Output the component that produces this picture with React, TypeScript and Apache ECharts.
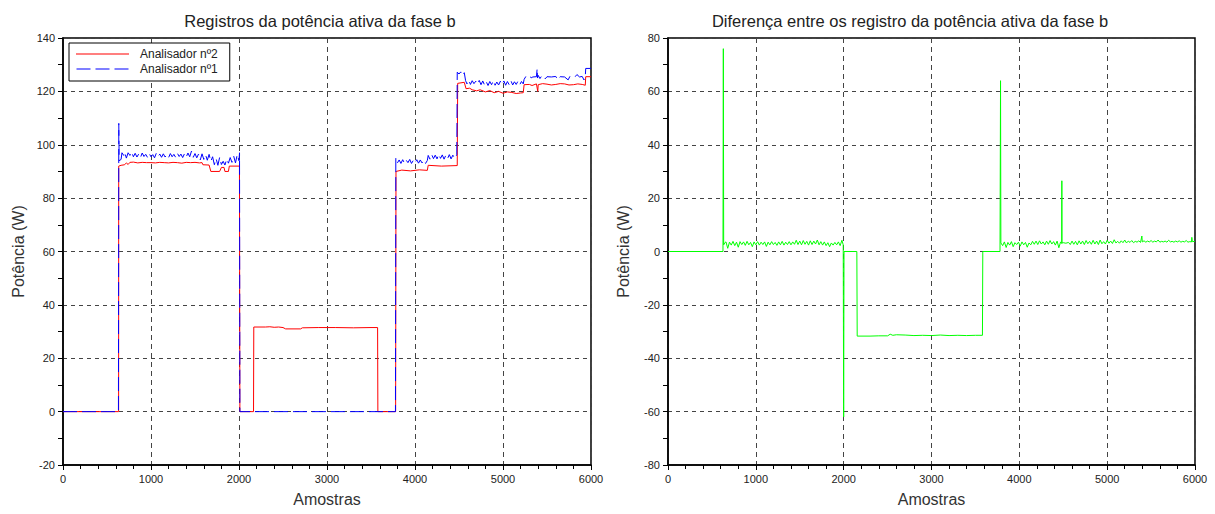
import React, { useEffect, useRef } from 'react';
import * as echarts from 'echarts';

const titles = ['Registros da potência ativa da fase b', 'Diferença entre os registro da potência ativa da fase b'];
const xName = 'Amostras';
const yName = 'Potência (W)';
const legendNames = ['Analisador nº2', 'Analisador nº1'];

// Analisador nº2 (red) [amostra, W]
const analisador2: number[][] = [
  [0, 0], [632, 0], [633, 92], [660, 92.3], [700, 92.5], [720, 93.2], [740, 92.6], [760, 93.4], [800, 93.5],
  [850, 93.2], [900, 93.4], [950, 93.3], [1000, 93.3], [1050, 93.2], [1100, 93.4], [1150, 93.3], [1200, 93.2],
  [1250, 93.4], [1300, 93.3], [1350, 93.1], [1400, 93.4], [1450, 93.3], [1500, 93.4], [1550, 93.2], [1580, 93.3],
  [1590, 92.5], [1660, 92.4], [1680, 90], [1780, 90], [1800, 91.5], [1830, 91.5], [1840, 90], [1880, 90],
  [1890, 92], [2005, 92], [2010, 0], [2165, 0], [2168, 31.7], [2300, 31.7], [2350, 31.8], [2400, 31.6],
  [2450, 31.7], [2500, 31.5], [2530, 31], [2700, 31], [2720, 31.4], [2900, 31.5], [3100, 31.5], [3300, 31.4],
  [3500, 31.5], [3575, 31.5], [3578, 0], [3780, 0], [3784, 90], [3850, 90.5], [3950, 90.2], [4050, 90.6],
  [4140, 90.4], [4150, 92.3], [4300, 92], [4480, 92.2], [4485, 123], [4560, 123.4], [4580, 121], [4620, 121.2],
  [4650, 120.6], [4700, 120.2], [4740, 120.6], [4800, 119.8], [4850, 120.3], [4900, 119.5], [4950, 120],
  [5000, 119.3], [5050, 119.8], [5100, 119.6], [5150, 119.2], [5200, 119.4], [5230, 119.5], [5240, 122.5],
  [5300, 122.6], [5330, 122.2], [5380, 122.8], [5395, 120], [5400, 122.5], [5450, 122.9], [5500, 122.7],
  [5550, 122.4], [5600, 122.6], [5650, 122.9], [5700, 122.8], [5750, 122.4], [5800, 122.5], [5850, 122.8],
  [5900, 122.6], [5935, 122.3], [5940, 125.5], [6000, 125.5],
];

// Analisador nº1 (blue) [amostra, W]
const analisador1: number[][] = [
  [0, 0], [630, 0], [634, 108], [638, 94], [660, 94.5], [670, 97], [690, 96], [700, 97.2], [720, 95], [740, 97],
  [760, 96], [780, 97.3], [800, 95.5], [820, 96.8], [840, 95.4], [860, 96.5], [880, 95.2], [900, 96.9], [920, 95.6],
  [940, 96.4], [960, 95.3], [980, 96.7], [1000, 95.5], [1020, 96.3], [1040, 95.1], [1060, 96.8], [1080, 95.6],
  [1100, 96.5], [1120, 95.3], [1140, 96.6], [1160, 95.4], [1180, 96.2], [1200, 95.2], [1220, 96.7], [1240, 95.5],
  [1260, 96.4], [1280, 95.3], [1300, 96.8], [1320, 95.6], [1340, 96.5], [1360, 95.2], [1380, 96.6], [1400, 95.4],
  [1420, 96.9], [1440, 95.5], [1460, 97.6], [1480, 95.3], [1500, 96.7], [1520, 95.1], [1540, 96.5], [1560, 94.3],
  [1580, 96.6], [1600, 94.5], [1620, 96.2], [1640, 94.2], [1660, 96.4], [1680, 93.8], [1700, 95.5], [1720, 92.5],
  [1740, 94.8], [1760, 92.3], [1780, 95.3], [1800, 92.6], [1820, 93.8], [1840, 92.4], [1860, 94.6], [1880, 93.1],
  [1900, 95.2], [1920, 93.4], [1940, 95.7], [1960, 93.2], [1980, 96.3], [2000, 94], [2006, 97], [2010, 0],
  [3778, 0], [3782, 95], [3800, 93.2], [3820, 94.3], [3840, 93], [3860, 94.4], [3880, 93.1], [3900, 94.2],
  [3920, 93.3], [3940, 94.5], [3960, 93], [3980, 94.1], [4000, 93.2], [4020, 94.4], [4040, 93.1], [4060, 94.3],
  [4080, 93.2], [4100, 94.2], [4120, 93], [4140, 94.1], [4150, 96], [4170, 94.6], [4190, 96.3], [4210, 94.8],
  [4230, 96.1], [4250, 94.7], [4270, 96.4], [4290, 94.9], [4310, 96.2], [4330, 94.6], [4350, 96], [4370, 94.8],
  [4390, 96.3], [4410, 94.7], [4430, 96.1], [4450, 94.9], [4475, 96.2], [4480, 127.2], [4500, 126.5],
  [4520, 127.3], [4540, 126], [4560, 127], [4575, 124], [4590, 122.8], [4610, 124.2], [4630, 122.6], [4650, 124],
  [4670, 122.9], [4690, 123.8], [4710, 122.7], [4730, 124.1], [4750, 122.5], [4770, 123.9], [4790, 122.4],
  [4810, 123.6], [4830, 122.2], [4850, 123.7], [4870, 122.5], [4890, 124], [4910, 122.3], [4930, 123.5],
  [4950, 122.4], [4970, 123.8], [4990, 122.6], [5010, 123.9], [5030, 122.3], [5050, 123.7], [5070, 122.5],
  [5090, 124], [5110, 122.4], [5130, 123.6], [5150, 122.6], [5170, 123.8], [5190, 122.5], [5210, 123.7],
  [5230, 122.8], [5240, 124.5], [5260, 125.6], [5280, 125.3], [5300, 125.7], [5320, 125.1], [5340, 125.4],
  [5380, 125.5], [5388, 128.5], [5392, 125], [5400, 126], [5420, 124.8], [5440, 125.8], [5460, 125.6],
  [5480, 124.7], [5500, 125.5], [5550, 125.4], [5600, 125.6], [5620, 124.4], [5650, 125.5], [5700, 125.4],
  [5740, 124.3], [5760, 125.6], [5800, 125.5], [5820, 125.5], [5840, 126.3], [5870, 125.4], [5900, 125.6],
  [5920, 124.3], [5935, 125.5], [5940, 128.6], [6000, 128.6],
];

// Diferença (green) [amostra, W]
const diferenca: number[][] = [
  [0, 0], [626, 0], [630, 76], [634, 2.5], [650, 3.4], [660, 3.6], [680, 1.2], [700, 3.5], [720, 2.4], [740, 3.8],
  [760, 2.2], [780, 3.5], [800, 1.6], [820, 3.7], [840, 2.6], [860, 3.6], [880, 2.3], [900, 3.8], [920, 2.5],
  [940, 3.4], [960, 1.8], [980, 3.6], [1000, 2.5], [1020, 3.7], [1040, 2.4], [1060, 3.5], [1080, 2.6], [1100, 3.6],
  [1120, 1.9], [1140, 3.5], [1160, 2.5], [1180, 3.7], [1200, 2.6], [1220, 3.4], [1240, 2.3], [1260, 3.6],
  [1280, 2.5], [1300, 3.8], [1320, 2.4], [1340, 3.5], [1360, 2.6], [1380, 3.7], [1400, 2.5], [1420, 3.6],
  [1440, 2.7], [1460, 4.2], [1480, 2.6], [1500, 3.9], [1520, 2.5], [1540, 4.1], [1560, 2.7], [1580, 3.8],
  [1600, 2.4], [1620, 4.0], [1640, 2.6], [1660, 3.9], [1680, 2.8], [1700, 4.3], [1720, 2.5], [1740, 3.7],
  [1760, 2.4], [1780, 3.6], [1800, 2.2], [1820, 3.3], [1840, 1.8], [1860, 3.2], [1880, 2.4], [1900, 3.4],
  [1920, 2.5], [1940, 3.6], [1960, 2.2], [1980, 4.2], [1995, 2.5], [2000, -62], [2004, 0], [2150, 0],
  [2154, -31.7], [2300, -31.7], [2400, -31.6], [2500, -31.6], [2530, -31], [2560, -31.4], [2600, -31.2],
  [2700, -31.3], [2800, -31.5], [2900, -31.4], [3000, -31.5], [3100, -31.3], [3200, -31.5], [3300, -31.4],
  [3400, -31.5], [3500, -31.4], [3580, -31.4], [3584, 0], [3780, 0], [3786, 64], [3790, 3.2], [3810, 2.2],
  [3830, 3.6], [3850, 1.5], [3870, 3.4], [3890, 2.4], [3910, 3.7], [3930, 1.8], [3950, 3.3], [3970, 2.6],
  [3990, 3.5], [4010, 2.0], [4030, 3.6], [4050, 2.5], [4070, 3.4], [4090, 1.6], [4110, 3.2], [4130, 2.5],
  [4150, 3.8], [4170, 2.7], [4190, 3.9], [4210, 2.6], [4230, 4.0], [4250, 2.8], [4270, 3.6], [4290, 2.5],
  [4310, 3.9], [4330, 2.7], [4350, 4.1], [4370, 2.8], [4390, 3.7], [4410, 2.4], [4430, 3.9], [4450, 1.4],
  [4470, 3.6], [4482, 3], [4484, 26.5], [4486, 3.2], [4500, 3.3], [4530, 3.1], [4560, 3.4], [4580, 2.6],
  [4600, 3.9], [4620, 2.7], [4640, 3.8], [4660, 2.5], [4680, 4.0], [4700, 2.8], [4720, 3.9], [4740, 2.6],
  [4760, 4.1], [4780, 2.9], [4800, 3.8], [4820, 2.7], [4840, 4.2], [4860, 2.8], [4880, 3.9], [4900, 2.6],
  [4920, 4.3], [4940, 2.9], [4960, 3.7], [4980, 2.8], [5000, 4.2], [5020, 3.1], [5040, 3.9], [5060, 3.0],
  [5080, 4.4], [5100, 3.2], [5120, 3.8], [5140, 3.1], [5160, 4.0], [5180, 3.3], [5200, 4.3], [5220, 3.2],
  [5240, 3.9], [5260, 3.4], [5280, 4.1], [5300, 3.3], [5320, 3.8], [5340, 3.5], [5360, 4.0], [5380, 3.4],
  [5395, 5.8], [5400, 3.6], [5420, 4.0], [5440, 3.5], [5460, 3.9], [5480, 3.6], [5500, 4.1], [5520, 3.5],
  [5540, 3.9], [5560, 3.6], [5580, 4.3], [5600, 3.5], [5620, 3.8], [5640, 3.6], [5660, 3.9], [5680, 3.5],
  [5700, 4.2], [5720, 3.6], [5740, 3.8], [5760, 3.5], [5780, 3.9], [5800, 3.6], [5820, 4.0], [5840, 3.5],
  [5860, 3.8], [5880, 3.6], [5900, 4.1], [5920, 3.5], [5940, 3.7], [5960, 3.6], [5964, 5.3], [5970, 3.7],
  [6000, 3.8],
];

const xRange = [0, 6000, 1000];
const yRangeLeft = [-20, 140, 20];
const yRangeRight = [-80, 80, 20];

const FONT = 'Liberation Sans, Arial, Helvetica, sans-serif';
const BLUE_DASH = [14, 5];

function xAxisCfg(gridIndex: number) {
  return {
    type: 'value', gridIndex, min: xRange[0], max: xRange[1], interval: xRange[2],
    name: xName, nameLocation: 'middle', nameGap: 26,
    nameTextStyle: { fontSize: 16, color: '#333', fontFamily: FONT },
    axisLine: { show: true, onZero: false, lineStyle: { color: '#000', width: 1.5 } },
    axisTick: { show: true, length: 5, lineStyle: { color: '#000' } },
    minorTick: { show: true, splitNumber: 5, length: 4, lineStyle: { color: '#000' } },
    axisLabel: { fontSize: 11, color: '#222', fontFamily: FONT, margin: 8, formatter: (v: number) => String(v) },
    splitLine: { show: true, lineStyle: { color: '#444', type: [5, 4], width: 1 } },
  };
}

function yAxisCfg(gridIndex: number, r: number[]) {
  return {
    type: 'value', gridIndex, min: r[0], max: r[1], interval: r[2],
    name: yName, nameLocation: 'middle', nameGap: 37,
    nameTextStyle: { fontSize: 16, color: '#333', fontFamily: FONT },
    axisLine: { show: true, onZero: false, lineStyle: { color: '#000', width: 1.5 } },
    axisTick: { show: true, length: 5, lineStyle: { color: '#000' } },
    minorTick: { show: true, splitNumber: 2, length: 5, lineStyle: { color: '#000' } },
    axisLabel: { fontSize: 11, color: '#222', fontFamily: FONT, margin: 8, formatter: (v: number) => String(v) },
    splitLine: { show: true, lineStyle: { color: '#444', type: [4, 4], width: 1 } },
  };
}

export default function App() {
  const ref = useRef<HTMLDivElement>(null);
  useEffect(() => {
    document.body.style.margin = '0';
    if (!ref.current) return;
    const chart = echarts.init(ref.current, null, { renderer: 'svg' });
    chart.setOption({
      animation: false,
      backgroundColor: '#fff',
      textStyle: { fontFamily: FONT },
      title: [
        { text: titles[0], left: 315, top: 7, textAlign: 'center', textStyle: { fontSize: 16.5, fontWeight: 'normal', color: '#222', fontFamily: FONT } },
        { text: titles[1], left: 905, top: 7, textAlign: 'center', textStyle: { fontSize: 16.5, fontWeight: 'normal', color: '#222', fontFamily: FONT } },
      ],
      legend: {
        data: [
          { name: legendNames[0], icon: 'path://M0,0H53V1H0Z' },
          { name: legendNames[1], icon: 'path://M0,0H14V1H0Z M19,0H33V1H19Z M38,0H52V1H38Z' },
        ],
        orient: 'vertical', left: 69, top: 43,
        itemWidth: 53, itemHeight: 1, itemGap: 1,
        padding: [4, 12, 5, 7],
        borderColor: '#000', borderWidth: 1, backgroundColor: '#fff',
        textStyle: { fontSize: 12, color: '#222', fontFamily: FONT, padding: [0, 0, 0, 6], lineHeight: 14 },
      },
      grid: [
        { left: 63, top: 38, width: 528, height: 427, show: true, borderColor: '#000', borderWidth: 1.5, backgroundColor: 'transparent' },
        { left: 668, top: 38, width: 527, height: 427, show: true, borderColor: '#000', borderWidth: 1.5, backgroundColor: 'transparent' },
      ],
      xAxis: [xAxisCfg(0), xAxisCfg(1)],
      yAxis: [yAxisCfg(0, yRangeLeft), yAxisCfg(1, yRangeRight)],
      series: [
        {
          name: legendNames[0], type: 'line', xAxisIndex: 0, yAxisIndex: 0, data: analisador2,
          symbol: 'none', showSymbol: false, lineStyle: { color: '#ff0000', width: 1 }, itemStyle: { color: '#ff0000' },
        },
        {
          name: legendNames[1], type: 'line', xAxisIndex: 0, yAxisIndex: 0, data: analisador1,
          symbol: 'none', showSymbol: false, lineStyle: { color: '#0000ff', width: 1, type: BLUE_DASH }, itemStyle: { color: '#0000ff' },
        },
        {
          name: 'Diferença', type: 'line', xAxisIndex: 1, yAxisIndex: 1, data: diferenca,
          symbol: 'none', showSymbol: false, lineStyle: { color: '#00ff00', width: 1 }, itemStyle: { color: '#00ff00' },
        },
      ],
    });
    return () => chart.dispose();
  }, []);
  return <div ref={ref} style={{ width: 1215, height: 514 }} />;
}
